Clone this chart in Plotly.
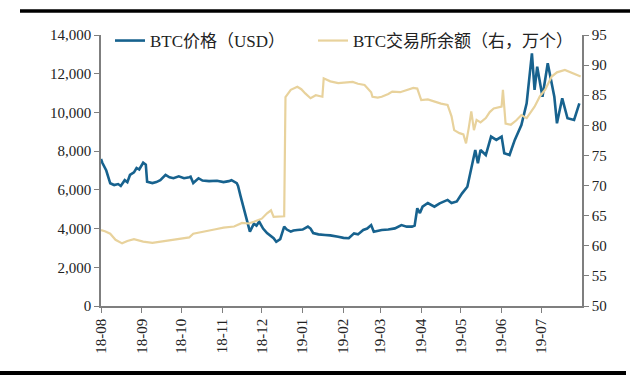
import plotly.graph_objects as go

# ---- data ----
price_dates = [
    "2018-08-01","2018-08-02","2018-08-05","2018-08-08","2018-08-11","2018-08-14","2018-08-16","2018-08-19",
    "2018-08-21","2018-08-23","2018-08-26","2018-08-28","2018-08-30","2018-09-02","2018-09-04","2018-09-05",
    "2018-09-09","2018-09-12","2018-09-15","2018-09-19","2018-09-22","2018-09-25","2018-09-29","2018-10-03",
    "2018-10-07","2018-10-08","2018-10-10","2018-10-14","2018-10-17","2018-10-22","2018-10-28","2018-11-02",
    "2018-11-06","2018-11-08","2018-11-12","2018-11-13","2018-11-15","2018-11-17","2018-11-19","2018-11-21",
    "2018-11-22","2018-11-25","2018-11-27","2018-11-29","2018-12-02","2018-12-05","2018-12-08","2018-12-10",
    "2018-12-12","2018-12-15","2018-12-18","2018-12-20","2018-12-23","2018-12-25","2018-12-28","2019-01-01",
    "2019-01-05","2019-01-07","2019-01-09","2019-01-13","2019-01-18","2019-01-22","2019-01-28","2019-02-01",
    "2019-02-05","2019-02-09","2019-02-12","2019-02-16","2019-02-19","2019-02-22","2019-02-24","2019-02-27",
    "2019-03-02","2019-03-07","2019-03-12","2019-03-17","2019-03-21","2019-03-25","2019-03-27","2019-03-29",
    "2019-03-31","2019-04-02","2019-04-06","2019-04-11","2019-04-15","2019-04-21","2019-04-24","2019-04-28",
    "2019-05-02","2019-05-06","2019-05-09","2019-05-12","2019-05-14","2019-05-16","2019-05-20","2019-05-24",
    "2019-05-28","2019-06-01","2019-06-03","2019-06-07","2019-06-11","2019-06-16","2019-06-20","2019-06-24",
    "2019-06-26","2019-06-28","2019-07-02","2019-07-06","2019-07-11","2019-07-13","2019-07-17","2019-07-21",
    "2019-07-26","2019-07-30",
]
btc_price = [
    7600, 7400, 7000, 6340, 6250, 6300, 6200, 6500,
    6400, 6770, 6900, 7130, 7050, 7400, 7300, 6420,
    6350, 6400, 6500, 6770, 6650, 6600, 6700, 6600,
    6650, 6680, 6350, 6600, 6480, 6450, 6470, 6400,
    6450, 6500, 6350, 6200, 5650, 5130, 4550, 4030,
    3840, 4250, 4150, 4360, 4000, 3770, 3600, 3500,
    3320, 3450, 4100, 3950, 3840, 3900, 3930, 3950,
    4100, 4000, 3770, 3700, 3670, 3650, 3580, 3520,
    3500, 3750, 3700, 3930, 4000, 4180, 3840, 3880,
    3930, 3950, 4010, 4180, 4100, 4100, 4150, 5050,
    4800, 5130, 5320, 5130, 5300, 5480, 5320, 5400,
    5820, 6160, 7030, 8060, 7370, 8060, 7800, 8750,
    8580, 8750, 7890, 7800, 8580, 9350, 10470, 13050,
    11160, 12360, 10810, 12540, 10810, 9440, 10730, 9700,
    9610, 10470,
]

bal_dates = [
    "2018-08-01","2018-08-04","2018-08-08","2018-08-12","2018-08-17","2018-08-21","2018-08-26","2018-09-02",
    "2018-09-09","2018-09-15","2018-09-23","2018-09-29","2018-10-07","2018-10-10","2018-10-18","2018-10-26",
    "2018-11-02","2018-11-10","2018-11-16","2018-11-21","2018-11-25","2018-12-01","2018-12-05","2018-12-08",
    "2018-12-10","2018-12-16","2018-12-18","2018-12-19","2018-12-23","2018-12-28","2018-12-31","2019-01-03",
    "2019-01-07","2019-01-11","2019-01-16","2019-01-17","2019-01-22","2019-01-28","2019-02-02","2019-02-08",
    "2019-02-12","2019-02-17","2019-02-22","2019-02-23","2019-02-27","2019-03-02","2019-03-07","2019-03-10",
    "2019-03-16","2019-03-22","2019-03-26","2019-03-29","2019-04-01","2019-04-06","2019-04-11","2019-04-16",
    "2019-04-21","2019-04-24","2019-04-26","2019-04-30","2019-05-03","2019-05-05","2019-05-07","2019-05-09",
    "2019-05-11","2019-05-13","2019-05-16","2019-05-20","2019-05-23","2019-05-26","2019-06-01","2019-06-02",
    "2019-06-04","2019-06-08","2019-06-12","2019-06-16","2019-06-20","2019-06-26","2019-06-30","2019-07-04",
    "2019-07-09","2019-07-13","2019-07-19","2019-07-23","2019-07-27","2019-07-31",
]
btc_balance = [
    62.6, 62.4, 62.0, 61.0, 60.4, 60.8, 61.1, 60.7,
    60.5, 60.7, 61.0, 61.2, 61.4, 62.0, 62.3, 62.7,
    63.0, 63.2, 63.8, 63.7, 64.0, 64.5, 65.4, 65.9,
    64.8, 64.8, 64.9, 84.7, 85.9, 86.4, 86.0, 85.3,
    84.5, 85.0, 84.75, 87.8, 87.3, 87.0, 87.1, 87.2,
    86.9, 86.7, 85.5, 84.75, 84.6, 84.75, 85.2, 85.6,
    85.5, 85.9, 86.2, 86.1, 84.2, 84.3, 83.9, 83.6,
    83.4, 81.5, 79.2, 78.7, 78.5, 77.0, 79.5, 82.3,
    79.2, 80.9, 80.5, 81.2, 82.2, 82.8, 83.1, 85.9,
    80.3, 80.1, 80.8, 81.7, 81.2, 83.1, 84.8, 85.9,
    88.1, 88.8, 89.2, 88.8, 88.4, 88.1,
]

tick_dates = ["2018-08-01","2018-09-01","2018-10-01","2018-11-01","2018-12-01","2019-01-01",
              "2019-02-01","2019-03-01","2019-04-01","2019-05-01","2019-06-01","2019-07-01"]
tick_labels = ["18-08","18-09","18-10","18-11","18-12","19-01",
               "19-02","19-03","19-04","19-05","19-06","19-07"]

FONT = "Liberation Serif, 'Noto Sans CJK SC', serif"
BLUE = "#17628E"
BEIGE = "#E8D29C"
AXIS = "#7F7F7F"

fig = go.Figure()
fig.add_trace(go.Scatter(x=bal_dates, y=btc_balance, mode="lines", name="BTC交易所余额（右，万个）",
                         line=dict(color=BEIGE, width=2.2), yaxis="y2", legend="legend2",
                         showlegend=True))
fig.add_trace(go.Scatter(x=price_dates, y=btc_price, mode="lines", name="BTC价格（USD）",
                         line=dict(color=BLUE, width=2.6), legend="legend", showlegend=True))

W, H = 640, 385
L, R, T, B = 101, 58, 35, 79
pw, ph = W - L - R, H - T - B
def px(x): return (x - L) / pw
def py(y): return (H - B - y) / ph

fig.update_layout(
    width=W, height=H,
    margin=dict(l=L, r=R, t=T, b=B, autoexpand=False),
    paper_bgcolor="white", plot_bgcolor="white",
    showlegend=True,
    font=dict(family=FONT, size=15, color="#222"),
    xaxis=dict(type="date", range=["2018-08-01", "2019-08-01"],
               tickvals=tick_dates, ticktext=tick_labels, tickangle=-90,
               showline=True, linecolor=AXIS, linewidth=1.5, automargin=False,
               ticks="outside", ticklen=5, tickcolor=AXIS, showgrid=False, zeroline=False,
               tickfont=dict(family=FONT, size=15, color="#222")),
    yaxis=dict(range=[0, 14000], dtick=2000, tickformat=",", showline=True, linecolor=AXIS,
               linewidth=1.5, ticks="outside", ticklen=5, tickcolor=AXIS, showgrid=False,
               zeroline=False, automargin=False, tickfont=dict(family=FONT, size=15, color="#222")),
    yaxis2=dict(range=[50, 95], dtick=5, overlaying="y", side="right", showline=True,
                linecolor=AXIS, linewidth=1.5, ticks="outside", ticklen=5, tickcolor=AXIS,
                showgrid=False, zeroline=False, automargin=False,
                tickfont=dict(family=FONT, size=15, color="#222")),
    legend=dict(x=px(110), y=py(41), xanchor="left", yanchor="middle", orientation="h",
                bgcolor="rgba(0,0,0,0)", font=dict(family=FONT, size=17, color="#222")),
    legend2=dict(x=px(313), y=py(41), xanchor="left", yanchor="middle", orientation="h",
                 bgcolor="rgba(0,0,0,0)", font=dict(family=FONT, size=17, color="#222")),
    shapes=[
        dict(type="line", xref="paper", yref="paper", x0=px(20), x1=px(630), y0=py(11), y1=py(11),
             line=dict(color="black", width=3.5)),
        dict(type="line", xref="paper", yref="paper", x0=px(0), x1=px(626), y0=py(373), y1=py(373),
             line=dict(color="black", width=4)),
    ],
)

fig.write_html("out.html", config={"displayModeBar": False},
               post_script="document.body.style.margin='0';document.body.style.padding='0';")
